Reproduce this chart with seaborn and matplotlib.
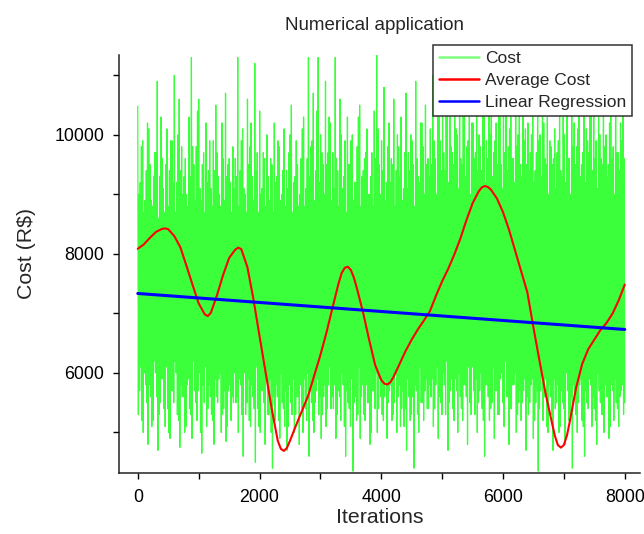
import numpy as np
import matplotlib
matplotlib.use('Agg')
import matplotlib.pyplot as plt
from matplotlib.ticker import MultipleLocator
import seaborn as sns

cost_high = [
    10480, 9200, 9900, 8900, 10200, 9500, 8800, 9700, 10900, 9300,
    9600, 8700, 10100, 9400, 9900, 11000, 9200, 10600, 9800, 9300,
    9000, 10300, 11300, 9500, 9800, 10600, 8900, 9700, 10200, 9400,
    9100, 9900, 10500, 9300, 8800, 9600, 10700, 9500, 9200, 9800,
    9600, 11300, 9400, 10100, 9000, 10600, 9800, 9300, 11200, 9700,
    10400, 9100, 9600, 10000, 8900, 9500, 10200, 9300, 9800, 9000,
    10100, 9400, 9700, 10500, 9200, 9900, 8800, 9600, 10300, 9100,
    11300, 9800, 10700, 9400, 11300, 10000, 9500, 10900, 9700, 10200,
    9700, 11300, 9400, 10600, 9100, 9900, 10300, 9500, 10000, 9200,
    9800, 10500, 9300, 9600, 10100, 9000, 9700, 10400, 11350, 9500,
    9900, 10800, 9200, 10200, 9600, 10600, 9400, 9800, 10300, 9100,
    10700, 9700, 10000, 9500, 10900, 9300, 10200, 9800, 10500, 9600,
    10100, 11000, 9600, 10500, 9900, 10800, 9400, 10300, 11200, 9700,
    10600, 10000, 11300, 9500, 10400, 9800, 10900, 10200, 9600, 11100,
    10000, 9400, 10700, 9900, 10400, 11300, 9700, 10200, 10900, 9500,
    10600, 11000, 9800, 10300, 9600, 11200, 10000, 9500, 10700, 10100,
    10200, 9700, 10800, 9400, 10500, 10000, 11000, 9600, 10300, 9900,
    9500, 10100, 9700, 10400, 9300, 10000, 10700, 9600, 11100, 10200,
    9800, 10600, 9500, 10900, 10100, 9700, 10400, 11200, 9900, 10300,
    9600, 10800, 10000, 9500, 10500, 9800, 11000, 9700, 10200, 10400,
]
cost_low = [
    5300, 6100, 5000, 5800, 4800, 5600, 5200, 6000, 4700, 5500,
    5900, 5100, 5400, 4900, 5700, 6200, 5300, 4750, 5600, 5000,
    5800, 5400, 4900, 5700, 5200, 6000, 4650, 5500, 5100, 5800,
    5300, 4800, 5600, 5900, 5000, 5400, 4850, 5700, 5200, 5500,
    5500, 5000, 5800, 4600, 5300, 5900, 5100, 5600, 4500, 5400,
    5000, 5700, 4800, 5300, 5900, 4400, 5200, 5600, 4900, 5500,
    5100, 4700, 5800, 5300, 5000, 5600, 4800, 5400, 5900, 5200,
    4600, 5500, 5000, 5700, 5300, 4900, 5600, 5100, 5800, 5400,
    5400, 4900, 5700, 5200, 5800, 4600, 5500, 5100, 4350, 5600,
    5300, 4900, 5800, 5200, 5500, 4800, 5700, 5400, 5000, 5900,
    5300, 5600, 4900, 5700, 5200, 5500, 5000, 5800, 5400, 5100,
    4700, 5600, 5300, 4400, 5700, 5000, 5500, 5200, 5900, 5400,
    5600, 5100, 5800, 4900, 5500, 6000, 5300, 4700, 5700, 5400,
    5900, 5000, 5600, 5200, 5800, 4800, 5500, 6100, 5300, 5000,
    5700, 5400, 4600, 5800, 5200, 5500, 4900, 5700, 5300, 6000,
    5100, 5600, 4800, 5400, 5800, 5000, 5500, 5200, 5700, 4700,
    5300, 5800, 4900, 5500, 4350, 5700, 5200, 5900, 5000, 5600,
    4700, 5400, 5800, 5100, 5500, 4800, 5700, 5300, 4400, 5600,
    5000, 5800, 5200, 4600, 5500, 5900, 5100, 5400, 4800, 5700,
    5300, 5000, 5600, 4900, 5800, 5200, 5500, 5100, 5700, 5300,
]
# inner swings of the band, in between the outer spikes
cost_high_inner = [
    9000, 9800, 8700, 9400, 10100, 8900, 9300, 9700, 8600, 10300,
    9100, 9500, 8800, 9900, 9200, 8700, 10000, 9400, 9000, 9600,
    8800, 9300, 9800, 8900, 10400, 9100, 9500, 8700, 9200, 9900,
    8800, 9400, 9700, 9000, 10200, 8900, 9300, 9600, 8700, 9100,
    9300, 8800, 9900, 9100, 8700, 9500, 10200, 8900, 9400, 8700,
    9000, 9700, 8800, 9300, 9600, 8700, 9200, 9900, 8900, 9400,
    8800, 9100, 10000, 8700, 9300, 9500, 9000, 10100, 8800, 9600,
    9300, 9900, 8900, 10400, 9200, 9700, 9000, 9500, 10300, 8900,
    9100, 9600, 8800, 10000, 9300, 8700, 9500, 9900, 8900, 9200,
    10300, 8800, 9400, 9700, 9000, 9300, 8800, 9600, 10100, 9000,
    9400, 8900, 9800, 9200, 9500, 8800, 10000, 9300, 8900, 9700,
    9100, 9400, 9900, 8800, 9600, 9200, 10200, 9000, 9500, 9300,
    9500, 9900, 9000, 10300, 9400, 9700, 10600, 9200, 9800, 9500,
    10100, 9100, 9600, 10400, 9300, 9900, 9000, 10200, 9700, 9400,
    9800, 10500, 9200, 9600, 10000, 9300, 9900, 9500, 10300, 9100,
    9700, 9400, 10100, 9600, 9200, 9800, 10400, 9300, 9900, 9500,
    9400, 10000, 9200, 9700, 9900, 9300, 10200, 9500, 9000, 9800,
    9600, 9100, 9900, 9400, 10300, 9200, 9600, 9000, 9800, 9500,
    10100, 9300, 9700, 9200, 9900, 10400, 9400, 9600, 9100, 10000,
    9500, 9800, 9300, 10200, 9600, 9000, 9700, 9400, 9900, 9600,
]
cost_low_inner = [
    5700, 5200, 6000, 5500, 5800, 5100, 6200, 5600, 5300, 5900,
    5400, 6100, 5000, 5700, 5500, 6000, 5200, 5800, 5600, 5100,
    5900, 5300, 6200, 5500, 5700, 5000, 5800, 6100, 5400, 5600,
    5200, 5900, 5500, 6000, 5300, 5700, 5100, 5800, 5600, 6000,
    5600, 5900, 5300, 6000, 5500, 5200, 5800, 5400, 6100, 5100,
    5700, 5500, 5900, 5300, 5000, 5600, 5800, 5200, 6000, 5400,
    5700, 5100, 5500, 5900, 5300, 5600, 5800, 5000, 5400, 6000,
    5700, 5200, 5500, 5900, 5600, 5300, 5800, 5400, 6100, 5600,
    5800, 5300, 5600, 6000, 5100, 5700, 5400, 5900, 5500, 5200,
    6100, 5600, 5300, 5800, 5500, 5000, 5700, 6000, 5400, 5600,
    5200, 5900, 5500, 5800, 5300, 6000, 5600, 5100, 5700, 5400,
    5900, 5200, 5600, 5800, 5300, 6100, 5500, 5700, 5400, 5800,
    5900, 5400, 6100, 5600, 5300, 5800, 6200, 5500, 5900, 5200,
    5700, 6000, 5400, 5800, 5600, 6100, 5300, 5700, 5900, 5500,
    6000, 5200, 5800, 5600, 5400, 6100, 5700, 5300, 5900, 5500,
    6200, 5600, 5400, 5800, 6000, 5300, 5700, 5500, 5900, 5600,
    5500, 5900, 5200, 5700, 5400, 6000, 5600, 5100, 5800, 5300,
    5900, 5500, 5000, 5700, 5400, 6000, 5200, 5600, 5800, 5300,
    5500, 5900, 5100, 5700, 5400, 5800, 5600, 5200, 6000, 5500,
    5300, 5800, 5600, 5100, 5700, 5900, 5400, 5600, 5800, 5500,
]

# Average Cost
avg_iter = [
    0, 100, 200, 300, 400, 450, 500, 600, 700, 800,
    900, 1000, 1100, 1150, 1200, 1300, 1400, 1500, 1600, 1650,
    1700, 1800, 1900, 2000, 2100, 2200, 2300, 2350, 2400, 2450,
    2500, 2600, 2700, 2800, 2900, 3000, 3100, 3200, 3300, 3350,
    3400, 3450, 3500, 3550, 3600, 3700, 3800, 3900, 4000, 4050,
    4100, 4150, 4200, 4300, 4400, 4500, 4600, 4700, 4800, 4900,
    5000, 5100, 5200, 5300, 5400, 5500, 5600, 5650, 5700, 5750,
    5800, 5900, 6000, 6100, 6200, 6300, 6400, 6500, 6600, 6700,
    6800, 6850, 6900, 6950, 7000, 7050, 7100, 7200, 7300, 7400,
    7500, 7600, 7700, 7800, 7900, 8000,
]
avg_cost = [
    8085, 8160, 8270, 8370, 8420, 8428, 8415, 8300, 8110, 7800,
    7480, 7170, 6985, 6955, 7010, 7300, 7640, 7930, 8070, 8105,
    8080, 7780, 7240, 6620, 6010, 5400, 4860, 4725, 4690, 4740,
    4860, 5120, 5370, 5620, 5960, 6300, 6680, 7100, 7510, 7680,
    7765, 7785, 7730, 7600, 7420, 7020, 6560, 6130, 5880, 5820,
    5805, 5845, 5930, 6150, 6370, 6560, 6730, 6880, 7040, 7300,
    7540, 7750, 7990, 8260, 8570, 8850, 9050, 9115, 9140, 9125,
    9080, 8930, 8700, 8400, 8050, 7700, 7350, 6760, 6200, 5650,
    5180, 4950, 4790, 4745, 4790, 4950, 5200, 5750, 6150, 6400,
    6560, 6720, 6840, 7000, 7220, 7485,
]

# Linear Regression end points
reg_iter = [0, 8000]
reg_cost = [7335, 6730]

cost = np.column_stack([cost_high, cost_low, cost_high_inner, cost_low_inner]).ravel()
cost_iter = np.linspace(0, 8000, len(cost))

sns.set_theme(style='ticks')
plt.rcParams['font.family'] = ['Liberation Sans', 'DejaVu Sans']

fig = plt.figure(figsize=(6.44, 5.34), dpi=100)
ax = fig.add_axes([0.1848, 0.1148, 0.809, 0.7822])

sns.lineplot(x=cost_iter, y=cost, ax=ax, color='#3cff3c', lw=0.9,
             label='Cost', sort=False, estimator=None)
sns.lineplot(x=avg_iter, y=avg_cost, ax=ax, color='#ff0000', lw=1.5,
             label='Average Cost', sort=False, estimator=None)
sns.lineplot(x=reg_iter, y=reg_cost, ax=ax, color='#0000ff', lw=2.2,
             label='Linear Regression', sort=False, estimator=None)

ax.set_xlim(-308, 8250)
ax.set_ylim(4324, 11341)
ax.xaxis.set_major_locator(MultipleLocator(2000))
ax.xaxis.set_minor_locator(MultipleLocator(1000))
ax.yaxis.set_major_locator(MultipleLocator(2000))
ax.yaxis.set_minor_locator(MultipleLocator(1000))
ax.tick_params(axis='both', which='both', direction='out', length=4,
               width=1, colors='black', labelsize=12.8)
ax.tick_params(axis='x', which='both', pad=8)
ax.tick_params(axis='y', which='both', pad=6.5)
sns.despine(ax=ax)
for s in ['left', 'bottom']:
    ax.spines[s].set_color('#222222')
    ax.spines[s].set_linewidth(1.1)

ax.set_title('Numerical application', fontsize=13.5, pad=18, x=0.49)
ax.set_xlabel('Iterations', fontsize=15.3, labelpad=1)
ax.set_ylabel('Cost (R$)', fontsize=15.3, labelpad=13, y=0.526)

leg = ax.legend(loc='upper right', bbox_to_anchor=(632 / 644, 1 - 45 / 534),
                bbox_transform=fig.transFigure, frameon=True, fancybox=False,
                edgecolor='#333333', framealpha=1, fontsize=12.5,
                handlelength=2.3, handletextpad=0.35, labelspacing=0.38,
                borderpad=0.35, borderaxespad=0)
leg.get_frame().set_linewidth(1.1)
for h in leg.get_lines():
    h.set_linewidth(1.8)
leg.get_lines()[0].set_color('#80ff80')

fig.savefig('out.png', dpi=100)
